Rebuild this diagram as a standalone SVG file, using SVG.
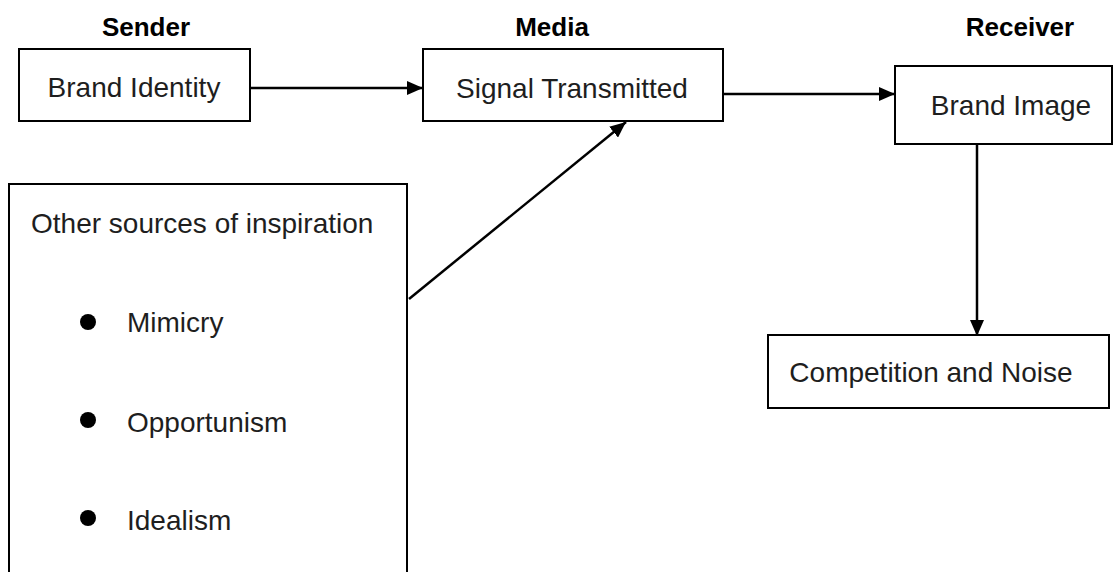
<svg xmlns="http://www.w3.org/2000/svg" width="1116" height="572" viewBox="0 0 1116 572">
  <style>
    .box { fill: #ffffff; stroke: #000000; stroke-width: 2; }
    .label { font-family: "Liberation Sans", Arial, sans-serif; font-size: 28px; fill: #1e1e1e; }
    .head { font-family: "Liberation Sans", Arial, sans-serif; font-size: 26px; font-weight: bold; fill: #000000; text-anchor: middle; }
    .mid { text-anchor: middle; }
    .edge { stroke: #000000; stroke-width: 2.5; fill: none; marker-end: url(#arrow); }
  </style>
  <defs>
    <marker id="arrow" viewBox="0 0 16 14" refX="16" refY="7" markerWidth="16" markerHeight="14" markerUnits="userSpaceOnUse" orient="auto">
      <path d="M0,0 L16,7 L0,14 Z" fill="#000000"/>
    </marker>
  </defs>
  <rect width="1116" height="572" fill="#ffffff"/>

  <!-- column headings -->
  <text class="head" x="146" y="36">Sender</text>
  <text class="head" x="552" y="36">Media</text>
  <text class="head" x="1020" y="36">Receiver</text>

  <g id="brand-identity">
    <rect class="box" x="19" y="49" width="231" height="72"/>
    <text class="label mid" x="134" y="97">Brand Identity</text>
  </g>

  <g id="signal-transmitted">
    <rect class="box" x="423" y="49" width="300" height="72"/>
    <text class="label mid" x="572" y="98">Signal Transmitted</text>
  </g>

  <g id="brand-image">
    <rect class="box" x="895" y="66" width="217" height="78"/>
    <text class="label mid" x="1011" y="115">Brand Image</text>
  </g>

  <g id="competition-noise">
    <rect class="box" x="768" y="335" width="341" height="73"/>
    <text class="label mid" x="931" y="382">Competition and Noise</text>
  </g>

  <g id="other-sources">
    <path class="box" d="M9,580 L9,184 L407,184 L407,580"/>
    <text class="label" x="31" y="233">Other sources of inspiration</text>
    <circle cx="88" cy="322" r="8" fill="#000000"/>
    <text class="label" x="127" y="332">Mimicry</text>
    <circle cx="88" cy="420" r="8" fill="#000000"/>
    <text class="label" x="127" y="432">Opportunism</text>
    <circle cx="88" cy="518" r="8" fill="#000000"/>
    <text class="label" x="127" y="530">Idealism</text>
  </g>

  <g id="connectors">
    <line class="edge" x1="250" y1="88" x2="423" y2="88"/>
    <line class="edge" x1="723" y1="94" x2="895" y2="94"/>
    <line class="edge" x1="977" y1="144" x2="977" y2="336"/>
    <line class="edge" x1="409" y1="299" x2="626" y2="122"/>
  </g>
</svg>
